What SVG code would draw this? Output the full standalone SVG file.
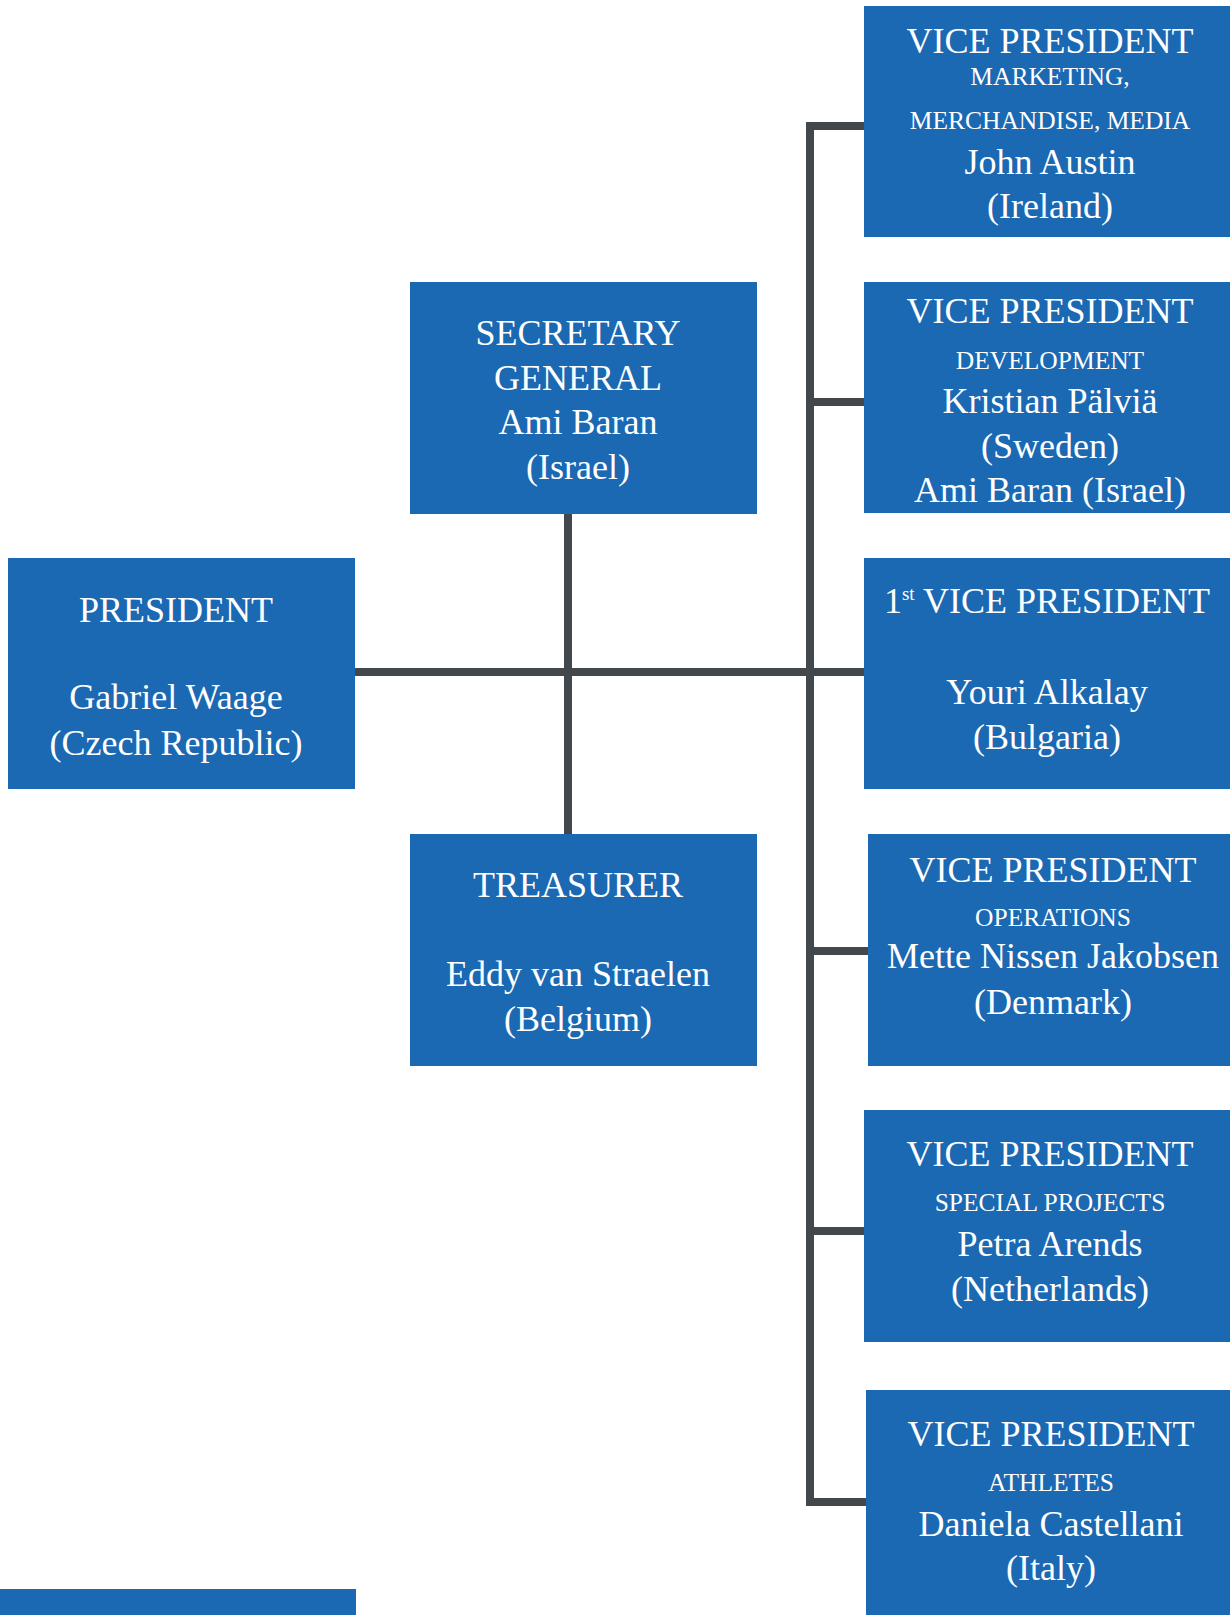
<svg xmlns="http://www.w3.org/2000/svg" width="1230" height="1615" viewBox="0 0 1230 1615">
<style>
.box{fill:#1b68b3}
.t{font-family:"Liberation Serif","Times New Roman",serif;fill:#ffffff;text-anchor:middle}
.m{font-size:36px}
.s{font-size:25.5px}
.sup{font-size:19px}
.ln{fill:none;stroke:#43484c;stroke-width:8;stroke-linejoin:miter;stroke-linecap:butt}
</style>
<rect width="1230" height="1615" fill="#ffffff"/>
<g id="connectors">
<path class="ln" d="M355 672H864"/>
<path class="ln" d="M568 514V834"/>
<path class="ln" d="M864 126H810V1502H866"/>
<path class="ln" d="M810 402H864"/>
<path class="ln" d="M810 951H868"/>
<path class="ln" d="M810 1231H864"/>
</g>
<g id="president">
<rect class="box" x="8" y="558" width="347" height="231"/>
<text class="t m" x="176" y="622">PRESIDENT</text>
<text class="t m" x="176" y="709">Gabriel Waage</text>
<text class="t m" x="176" y="755">(Czech Republic)</text>
</g>
<g id="secretary-general">
<rect class="box" x="410" y="282" width="347" height="232"/>
<text class="t m" x="578" y="345">SECRETARY</text>
<text class="t m" x="578" y="390">GENERAL</text>
<text class="t m" x="578" y="434">Ami Baran</text>
<text class="t m" x="578" y="479">(Israel)</text>
</g>
<g id="treasurer">
<rect class="box" x="410" y="834" width="347" height="232"/>
<text class="t m" x="578" y="897">TREASURER</text>
<text class="t m" x="578" y="986">Eddy van Straelen</text>
<text class="t m" x="578" y="1031">(Belgium)</text>
</g>
<g id="vp-marketing">
<rect class="box" x="864" y="6" width="366" height="231"/>
<text class="t m" x="1050" y="53">VICE PRESIDENT</text>
<text class="t s" x="1050" y="85">MARKETING,</text>
<text class="t s" x="1050" y="129">MERCHANDISE, MEDIA</text>
<text class="t m" x="1050" y="174">John Austin</text>
<text class="t m" x="1050" y="218">(Ireland)</text>
</g>
<g id="vp-development">
<rect class="box" x="864" y="282" width="366" height="231"/>
<text class="t m" x="1050" y="323">VICE PRESIDENT</text>
<text class="t s" x="1050" y="369">DEVELOPMENT</text>
<text class="t m" x="1050" y="413">Kristian Pälviä</text>
<text class="t m" x="1050" y="458">(Sweden)</text>
<text class="t m" x="1050" y="502">Ami Baran (Israel)</text>
</g>
<g id="vp-first">
<rect class="box" x="864" y="558" width="366" height="231"/>
<text class="t m" x="1047" y="613">1<tspan class="sup" dy="-13">st</tspan><tspan dy="13"> VICE PRESIDENT</tspan></text>
<text class="t m" x="1047" y="704">Youri Alkalay</text>
<text class="t m" x="1047" y="749">(Bulgaria)</text>
</g>
<g id="vp-operations">
<rect class="box" x="868" y="834" width="362" height="232"/>
<text class="t m" x="1053" y="882">VICE PRESIDENT</text>
<text class="t s" x="1053" y="926">OPERATIONS</text>
<text class="t m" x="1053" y="968">Mette Nissen Jakobsen</text>
<text class="t m" x="1053" y="1014">(Denmark)</text>
</g>
<g id="vp-special-projects">
<rect class="box" x="864" y="1110" width="366" height="232"/>
<text class="t m" x="1050" y="1166">VICE PRESIDENT</text>
<text class="t s" x="1050" y="1211">SPECIAL PROJECTS</text>
<text class="t m" x="1050" y="1256">Petra Arends</text>
<text class="t m" x="1050" y="1301">(Netherlands)</text>
</g>
<g id="vp-athletes">
<rect class="box" x="866" y="1390" width="364" height="225"/>
<text class="t m" x="1051" y="1446">VICE PRESIDENT</text>
<text class="t s" x="1051" y="1491">ATHLETES</text>
<text class="t m" x="1051" y="1536">Daniela Castellani</text>
<text class="t m" x="1051" y="1580">(Italy)</text>
</g>
<g id="bottom-box">
<rect class="box" x="0" y="1589" width="356" height="26"/>
</g>
</svg>
